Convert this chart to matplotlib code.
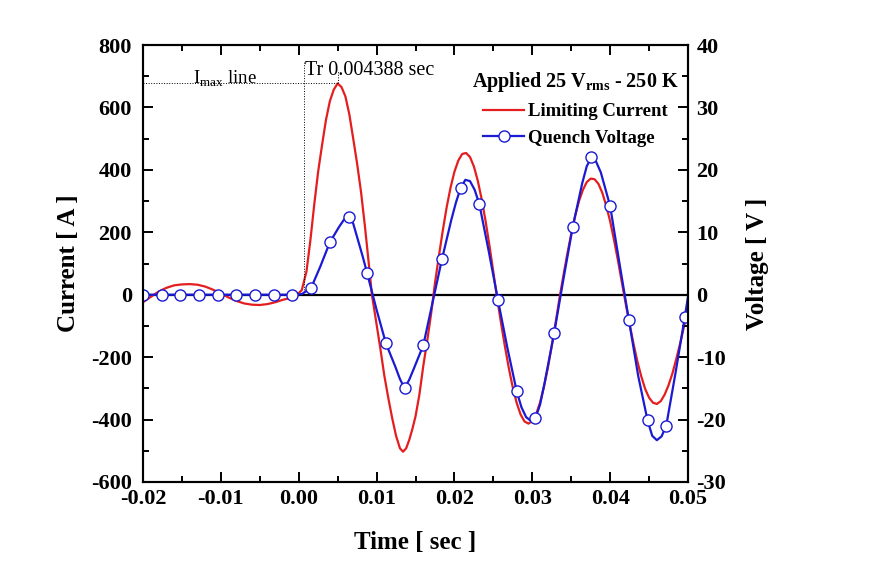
import matplotlib
matplotlib.use('Agg')
import matplotlib.pyplot as plt
from matplotlib.ticker import MultipleLocator, FormatStrFormatter

plt.rcParams['font.family'] = ['Liberation Serif', 'DejaVu Serif']
plt.rcParams['mathtext.fontset'] = 'custom'
plt.rcParams['mathtext.rm'] = 'Liberation Serif'
plt.rcParams['mathtext.bf'] = 'Liberation Serif:bold'
plt.rcParams['axes.unicode_minus'] = False

# limiting current (A) vs time (s)
red_t = [-0.0200, -0.0190, -0.0180, -0.0170, -0.0160, -0.0150, -0.0140, -0.0130,
         -0.0120, -0.0110, -0.0100, -0.0090, -0.0080, -0.0070, -0.0060, -0.0050,
         -0.0040, -0.0030, -0.0020, -0.0010, 0.0000, 0.0004, 0.0007, 0.0010,
         0.0015, 0.0020, 0.0025, 0.0030, 0.0035, 0.0040, 0.0045, 0.0050,
         0.0055, 0.0060, 0.0065, 0.0070, 0.0075, 0.0080, 0.0085, 0.0090,
         0.0094, 0.0100, 0.0105, 0.0110, 0.0115, 0.0120, 0.0125, 0.0130,
         0.0134, 0.0138, 0.0142, 0.0146, 0.0150, 0.0155, 0.0160, 0.0165,
         0.0170, 0.0175, 0.0180, 0.0185, 0.0190, 0.0195, 0.0200, 0.0205,
         0.0210, 0.0215, 0.0220, 0.0225, 0.0230, 0.0235, 0.0240, 0.0245,
         0.0250, 0.0255, 0.0260, 0.0265, 0.0270, 0.0275, 0.0280, 0.0285,
         0.0290, 0.0295, 0.0300, 0.0305, 0.0310, 0.0315, 0.0320, 0.0325,
         0.0330, 0.0335, 0.0340, 0.0345, 0.0350, 0.0355, 0.0360, 0.0365,
         0.0370, 0.0375, 0.0380, 0.0385, 0.0390, 0.0395, 0.0400, 0.0405,
         0.0410, 0.0415, 0.0420, 0.0425, 0.0430, 0.0435, 0.0440, 0.0445,
         0.0450, 0.0455, 0.0460, 0.0465, 0.0470, 0.0475, 0.0480, 0.0485,
         0.0490, 0.0495, 0.0500]
red_i = [-24, -7, 10, 22, 30, 33, 34, 32,
         26, 16, 4, -9, -20, -28, -32, -33,
         -30, -24, -16, -10, 5, 15, 45, 75,
         175, 290, 395, 480, 560, 620, 657, 677,
         665, 635, 578, 500, 420, 330, 220, 100,
         0, -95, -175, -260, -330, -395, -452, -492,
         -503, -492, -465, -430, -390, -320, -228, -148,
         -62, 37, 123, 205, 280, 343, 394, 430,
         451, 454, 441, 411, 365, 306, 236, 157,
         72, -14, -93, -168, -237, -298, -347, -384,
         -406, -413, -405, -382, -345, -295, -234, -164,
         -89, -10, 62, 131, 195, 252, 300, 336,
         361, 372, 370, 355, 326, 285, 235, 175,
         110, 40, -29, -95, -157, -214, -262, -302,
         -330, -346, -350, -341, -320, -290, -252, -205,
         -155, -100, -45]

# quench voltage (V); blue_mark = 1 where the curve carries an open circle
blue_t = [-0.0200, -0.0188, -0.0176, -0.0164, -0.0152, -0.0140, -0.0128, -0.0116,
          -0.0104, -0.0092, -0.0080, -0.0068, -0.0056, -0.0044, -0.0032, -0.0020,
          -0.0008, 0.0004, 0.0016, 0.0028, 0.0040, 0.0052, 0.0058, 0.0064,
          0.0070, 0.0076, 0.0082, 0.0088, 0.0094, 0.0100, 0.0112, 0.0124,
          0.0130, 0.0136, 0.0142, 0.0148, 0.0160, 0.0172, 0.0184, 0.0196,
          0.0202, 0.0208, 0.0214, 0.0220, 0.0226, 0.0232, 0.0244, 0.0256,
          0.0268, 0.0280, 0.0286, 0.0292, 0.0298, 0.0304, 0.0310, 0.0316,
          0.0328, 0.0340, 0.0352, 0.0364, 0.0370, 0.0376, 0.0382, 0.0388,
          0.0400, 0.0412, 0.0424, 0.0436, 0.0448, 0.0454, 0.0460, 0.0466,
          0.0472, 0.0484, 0.0496, 0.0500]
blue_v = [0, 0, 0, 0, 0, 0, 0, 0,
          0, 0, 0, 0, 0, 0, 0, 0,
          0, 0.1, 1.1, 4.6, 8.4, 10.9, 12.0, 12.5,
          11.4, 8.8, 6.2, 3.4, 0.5, -2.4, -7.8, -11.5,
          -13.5, -15.0, -13.6, -11.8, -8.1, -1.2, 5.7, 12.0,
          14.8, 17.1, 18.4, 18.2, 16.8, 14.5, 7.0, -0.9,
          -8.5, -15.5, -18.0, -19.6, -20.2, -19.8, -17.6, -14.0,
          -6.2, 2.5, 10.9, 17.8, 20.6, 22.0, 21.3, 19.6,
          14.2, 5.0, -4.0, -13.0, -20.1, -22.6, -23.3, -22.7,
          -21.0, -12.5, -3.5, -0.3]
blue_mark = [1, 0, 1, 0, 1, 0, 1, 0,
             1, 0, 1, 0, 1, 0, 1, 0,
             1, 0, 1, 0, 1, 0, 0, 1,
             0, 0, 0, 1, 0, 0, 1, 0,
             0, 1, 0, 0, 1, 0, 1, 0,
             0, 1, 0, 0, 0, 1, 0, 1,
             0, 1, 0, 0, 0, 1, 0, 0,
             1, 0, 1, 0, 0, 1, 0, 0,
             1, 0, 1, 0, 1, 0, 0, 0,
             1, 0, 1, 0]

t_rise = 0.0007
t_peak = 0.0051
i_peak = 677

fig = plt.figure(figsize=(8.73, 5.64), dpi=100)
ax1 = fig.add_axes([0.1638, 0.1454, 0.6243, 0.7748])
ax2 = ax1.twinx()

ax1.axhline(0, color='black', lw=1.6, zorder=1)
l1, = ax1.plot(red_t, red_i, color='#e41e1e', lw=1.6, label='Limiting Current', zorder=2)
l2, = ax2.plot(blue_t, blue_v, color='#1a1ad4', lw=1.6, marker='o', ms=8,
               mfc='white', mec='#1a1ad4', mew=1.0,
               markevery=[m == 1 for m in blue_mark], label='Quench Voltage')

# annotation lines
ax1.plot([-0.02, t_peak], [i_peak, i_peak], color='black', lw=0.7, ls=':')
ax1.plot([t_rise, t_rise], [0, 745], color='black', lw=0.7, ls=':')
ax1.plot([t_peak, t_peak], [i_peak, 720], color='black', lw=0.7, ls=':')
ax1.text(-0.0136, 677, r'I$_{\mathrm{max}}$ line', fontsize=13.5, va='baseline')
ax1.text(t_rise + 0.0001, 703, 'Tr 0.004388 sec', fontsize=14.5, va='baseline')

ax1.set_xlim(-0.02, 0.05)
ax1.set_ylim(-600, 800)
ax2.set_ylim(-30, 40)

ax1.xaxis.set_major_locator(MultipleLocator(0.01))
ax1.xaxis.set_minor_locator(MultipleLocator(0.005))
ax1.xaxis.set_major_formatter(FormatStrFormatter('%.2f'))
ax1.yaxis.set_major_locator(MultipleLocator(200))
ax1.yaxis.set_minor_locator(MultipleLocator(100))
ax2.yaxis.set_major_locator(MultipleLocator(10))
ax2.yaxis.set_minor_locator(MultipleLocator(5))

ax1.tick_params(axis='x', which='both', direction='in', top=True, width=1.4)
ax1.tick_params(axis='x', which='major', length=7, pad=5)
ax1.tick_params(axis='x', which='minor', length=4)
ax1.tick_params(axis='y', which='both', direction='in', right=False, width=1.4)
ax1.tick_params(axis='y', which='major', length=7, pad=8)
ax1.tick_params(axis='y', which='minor', length=4)
ax2.tick_params(axis='y', which='both', direction='in', width=1.4)
ax2.tick_params(axis='y', which='major', length=7, pad=6)
ax2.tick_params(axis='y', which='minor', length=4)

for ax in (ax1, ax2):
    for lab in ax.get_xticklabels() + ax.get_yticklabels():
        lab.set_fontsize(16)
        lab.set_fontweight('bold')
    for sp in ax.spines.values():
        sp.set_linewidth(1.5)

ax1.set_xlabel('Time [ sec ]', fontsize=18, fontweight='bold', labelpad=16)
ax1.set_ylabel('Current [ A ]', fontsize=18, fontweight='bold', labelpad=8)
ax2.set_ylabel('Voltage [ V ]', fontsize=18, fontweight='bold', labelpad=14)

leg = ax2.legend(handles=[l1, l2], loc='upper right', bbox_to_anchor=(1.0, 0.965),
                 frameon=False, handlelength=2.2, handletextpad=0.2,
                 labelspacing=0.5, borderaxespad=0.1,
                 prop={'size': 13.5, 'weight': 'bold'},
                 title=r'Applied 25 V$_{\mathbf{rms}}$ - 250 K',
                 title_fontproperties={'size': 14.5, 'weight': 'bold'})

fig.savefig('out.png', dpi=100)
